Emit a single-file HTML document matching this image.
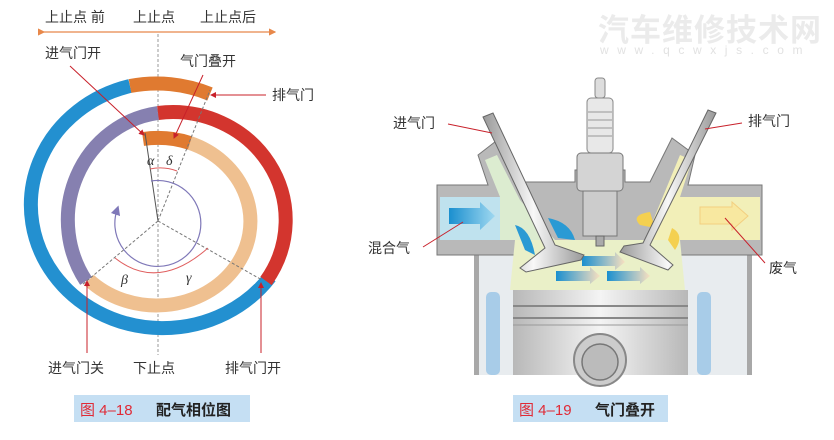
<!DOCTYPE html>
<html><head><meta charset="utf-8"><style>
html,body{margin:0;padding:0;background:#fff;}
svg{display:block;font-family:"Liberation Sans","Noto Sans CJK SC",sans-serif;}
</style></head><body>
<svg width="834" height="440" viewBox="0 0 834 440" xmlns="http://www.w3.org/2000/svg">
<defs>
<marker id="ar" markerWidth="6" markerHeight="6" refX="5" refY="3" orient="auto"><path d="M0,0 L6,3 L0,6 z" fill="#c8202a"/></marker>
<marker id="ao" markerWidth="6" markerHeight="6" refX="5" refY="3" orient="auto"><path d="M0,0 L6,3 L0,6 z" fill="#e8884a"/></marker>
<marker id="ap" markerWidth="8" markerHeight="8" refX="4" refY="4" orient="auto"><path d="M0,0 L8,4 L0,8 z" fill="#7f78b8"/></marker>
<linearGradient id="bl" x1="0" x2="1"><stop offset="0" stop-color="#1a8fcf"/><stop offset="1" stop-color="#9fd8f0"/></linearGradient>
<linearGradient id="bl2" x1="0" x2="1"><stop offset="0" stop-color="#1a8fcf"/><stop offset="1" stop-color="#f8e0c0"/></linearGradient>
<linearGradient id="pist" x1="0" x2="1"><stop offset="0" stop-color="#b8b8b8"/><stop offset=".5" stop-color="#f4f4f4"/><stop offset="1" stop-color="#b8b8b8"/></linearGradient>
<linearGradient id="stem" x1="0" x2="1"><stop offset="0" stop-color="#999"/><stop offset=".5" stop-color="#f8f8f8"/><stop offset="1" stop-color="#999"/></linearGradient>
</defs>

<!-- watermark -->
<text x="598" y="41" font-size="31" font-weight="bold" fill="#ebebeb" letter-spacing="1">汽车维修技术网</text>
<text x="600" y="54" font-size="12" fill="#e2e2e2" letter-spacing="8.6">www.qcwxjs.com</text>

<!-- LEFT DIAGRAM -->
<text x="45" y="22" font-size="14" fill="#333">上止点 前</text>
<text x="133" y="22" font-size="14" fill="#333">上止点</text>
<text x="200" y="22" font-size="14" fill="#333">上止点后</text>
<line x1="44" y1="32" x2="275" y2="32" stroke="#e8884a" stroke-width="1.2" marker-end="url(#ao)" marker-start="url(#ao)"/>
<line x1="158" y1="34" x2="158" y2="355" stroke="#999" stroke-width="1" stroke-dasharray="3,2"/>

<path d="M130,86 A132,123 0 1 0 270,277" fill="none" stroke="#2390d0" stroke-width="14"/>
<path d="M130,86 A132,123 0 0 1 210,94" fill="none" stroke="#e07a30" stroke-width="14"/>
<path d="M158,113 A104,108 0 0 0 86,281" fill="none" stroke="#8680b0" stroke-width="14"/>
<path d="M158,113 A113,108 0 0 1 266,281" fill="none" stroke="#d3352e" stroke-width="14"/>
<path d="M190,143 A94,84 0 1 1 89,280" fill="none" stroke="#efc090" stroke-width="14"/>
<path d="M143,139 A94,84 0 0 1 190,143" fill="none" stroke="#e07a30" stroke-width="14"/>

<line x1="158" y1="221" x2="145" y2="133" stroke="#555" stroke-width="1"/>
<line x1="158" y1="221" x2="210" y2="90" stroke="#777" stroke-width="1" stroke-dasharray="3,2"/>
<line x1="158" y1="221" x2="82" y2="285" stroke="#777" stroke-width="1" stroke-dasharray="3,2"/>
<line x1="158" y1="221" x2="262" y2="280" stroke="#777" stroke-width="1" stroke-dasharray="3,2"/>
<path d="M150,169 Q164,166 177,171" fill="none" stroke="#e06060" stroke-width="1"/>
<path d="M115,258 Q158,292 208,248" fill="none" stroke="#e06060" stroke-width="1"/>
<path d="M151,181 A43,43 0 1 1 117,210" fill="none" stroke="#7f78b8" stroke-width="1.2" marker-end="url(#ap)"/>
<text x="147" y="165" font-size="14" font-style="italic" font-family="Liberation Serif,serif" fill="#333">α</text>
<text x="166" y="165" font-size="14" font-style="italic" font-family="Liberation Serif,serif" fill="#333">δ</text>
<text x="121" y="284" font-size="14" font-style="italic" font-family="Liberation Serif,serif" fill="#333">β</text>
<text x="186" y="282" font-size="14" font-style="italic" font-family="Liberation Serif,serif" fill="#333">γ</text>

<text x="45" y="58" font-size="14" fill="#333">进气门开</text>
<line x1="70" y1="66" x2="144" y2="135" stroke="#c8202a" stroke-width="1" marker-end="url(#ar)"/>
<text x="180" y="66" font-size="14" fill="#333">气门叠开</text>
<line x1="203" y1="75" x2="174" y2="138" stroke="#c8202a" stroke-width="1" marker-end="url(#ar)"/>
<text x="272" y="100" font-size="14" fill="#333">排气门</text>
<line x1="266" y1="95" x2="211" y2="95" stroke="#c8202a" stroke-width="1" marker-end="url(#ar)"/>
<text x="48" y="373" font-size="14" fill="#333">进气门关</text>
<line x1="87" y1="353" x2="87" y2="281" stroke="#c8202a" stroke-width="1" marker-end="url(#ar)"/>
<text x="133" y="373" font-size="14" fill="#333">下止点</text>
<text x="225" y="373" font-size="14" fill="#333">排气门开</text>
<line x1="261" y1="353" x2="261" y2="283" stroke="#c8202a" stroke-width="1" marker-end="url(#ar)"/>

<rect x="74" y="395" width="176" height="27" fill="#c5dff3"/>
<text x="80" y="415" font-size="15" fill="#e02a36">图 4–18</text>
<text x="156" y="415" font-size="15" font-weight="bold" fill="#222">配气相位图</text>

<!-- RIGHT DIAGRAM -->
<path d="M474,255 L474,375 L752,375 L752,255 Z" fill="#a8a8a8"/>
<rect x="479" y="255" width="268" height="120" fill="#e8ecef"/>
<rect x="486" y="292" width="14" height="83" rx="5" fill="#a8cce8"/>
<rect x="697" y="292" width="14" height="83" rx="5" fill="#a8cce8"/>
<path d="M437,185 L488,185 L478,155 L500,138 L525,182 L575,182 L575,170 L625,170 L625,182 L650,182 L672,138 L695,155 L688,185 L762,185 L762,255 L437,255 Z" fill="#b9b9b9" stroke="#777" stroke-width="1"/>
<path d="M440,197 L500,197 L485,160 L497,155 L520,200 L555,240 L440,240 Z" fill="#dcecd0"/>
<rect x="440" y="197" width="60" height="43" fill="#bfe2ee"/>
<path d="M680,155 L692,160 L680,197 L760,197 L760,240 L645,240 Z" fill="#f2efb8"/>
<path d="M515,240 L680,240 L685,290 L510,290 Z" fill="#eaf0c8"/>
<rect x="513" y="290" width="175" height="85" fill="url(#pist)"/>
<line x1="513" y1="306" x2="688" y2="306" stroke="#888" stroke-width="2"/>
<line x1="513" y1="318" x2="688" y2="318" stroke="#888" stroke-width="2"/>
<line x1="513" y1="325" x2="688" y2="325" stroke="#999" stroke-width="1"/>
<circle cx="600" cy="360" r="26" fill="#ccc" stroke="#888" stroke-width="2"/>
<circle cx="600" cy="362" r="18" fill="#bbb" stroke="#777" stroke-width="1.5"/>
<path d="M449,208 L480,208 L480,202 L495,216 L480,230 L480,224 L449,224 Z" fill="url(#bl)"/>
<path d="M700,207 L732,207 L732,202 L748,216 L732,230 L732,224 L700,224 Z" fill="#f8e8a0" stroke="#f3cf80"/>
<path d="M582,256 L615,256 L615,252 L625,262 L615,270 L615,266 L582,266 Z" fill="url(#bl2)"/>
<path d="M556,271 L590,271 L590,267 L600,276 L590,284 L590,281 L556,281 Z" fill="url(#bl2)"/>
<path d="M607,271 L640,271 L640,267 L650,276 L640,284 L640,281 L607,281 Z" fill="url(#bl2)"/>
<path d="M515,225 Q530,228 535,255 L525,250 Z" fill="#2a9ad4"/>
<path d="M548,218 Q570,222 575,240 L558,238 Z" fill="#2a9ad4"/>
<path d="M640,225 Q630,215 650,212 L655,228 Z" fill="#f4d050"/>
<path d="M672,228 Q685,235 675,250 L668,240 Z" fill="#f4d050"/>
<path d="M483,117 L493,113 L555,245 L584,255 L581,260 L526,272 L520,268 L545,248 Z" fill="url(#stem)" stroke="#666" stroke-width="1"/>
<path d="M708,110 L716,113 L650,245 L673,265 L668,270 L620,252 L624,246 L643,243 Z" fill="url(#stem)" stroke="#666" stroke-width="1"/>
<rect x="595" y="78" width="10" height="20" rx="3" fill="#ddd" stroke="#888"/>
<rect x="587" y="98" width="26" height="55" rx="4" fill="#e8e8e8" stroke="#888"/>
<line x1="588" y1="112" x2="612" y2="112" stroke="#999"/><line x1="588" y1="120" x2="612" y2="120" stroke="#999"/><line x1="588" y1="128" x2="612" y2="128" stroke="#999"/><line x1="588" y1="136" x2="612" y2="136" stroke="#999"/>
<rect x="577" y="153" width="46" height="38" rx="4" fill="#d4d4d4" stroke="#777"/>
<rect x="583" y="191" width="34" height="45" fill="#ccc" stroke="#777"/>
<rect x="596" y="236" width="8" height="10" fill="#aaa" stroke="#666"/>

<text x="393" y="128" font-size="14" fill="#333">进气门</text>
<line x1="448" y1="124" x2="492" y2="133" stroke="#c8202a" stroke-width="1"/>
<text x="748" y="126" font-size="14" fill="#333">排气门</text>
<line x1="742" y1="123" x2="705" y2="129" stroke="#c8202a" stroke-width="1"/>
<text x="368" y="253" font-size="14" fill="#333">混合气</text>
<line x1="423" y1="247" x2="463" y2="222" stroke="#c8202a" stroke-width="1"/>
<text x="769" y="273" font-size="14" fill="#333">废气</text>
<line x1="765" y1="263" x2="725" y2="218" stroke="#c8202a" stroke-width="1"/>

<rect x="513" y="395" width="155" height="27" fill="#c5dff3"/>
<text x="519" y="415" font-size="15" fill="#e02a36">图 4–19</text>
<text x="595" y="415" font-size="15" font-weight="bold" fill="#222">气门叠开</text>
</svg>
</body></html>
